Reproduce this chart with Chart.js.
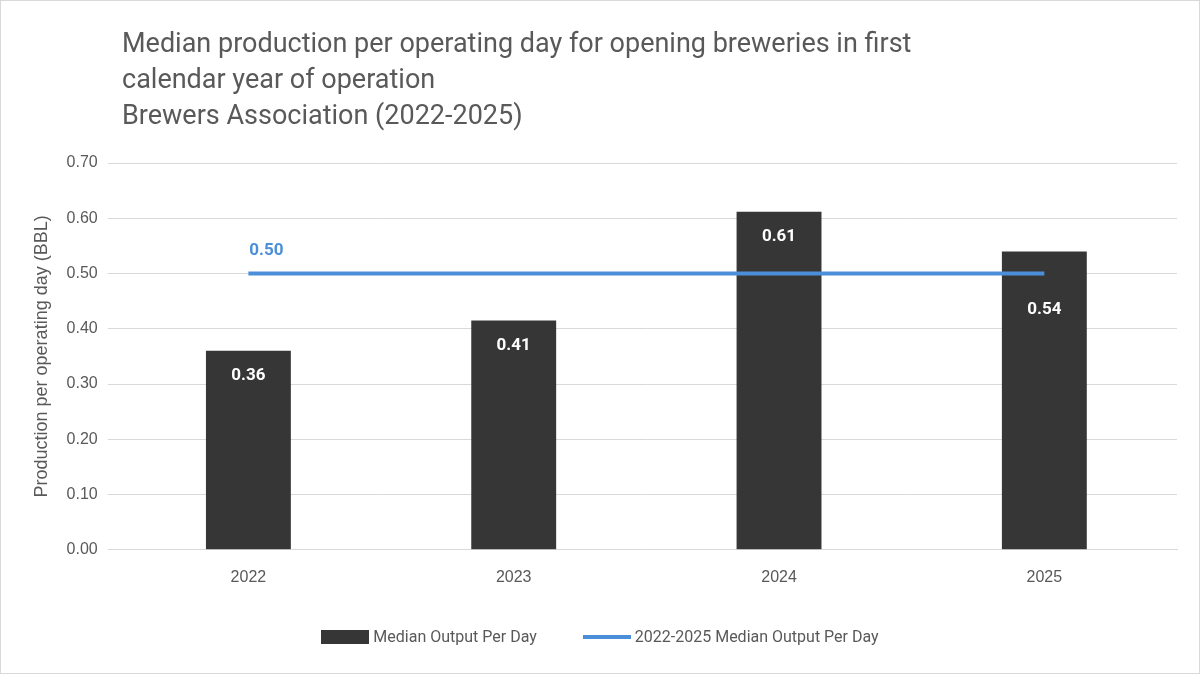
<!DOCTYPE html>
<html>
<head>
<meta charset="utf-8">
<script src="https://cdn.jsdelivr.net/npm/chart.js@4"></script>
<style>
  body { margin: 0; background: #fff; font-family: Roboto, "Open Sans", sans-serif; }
  #wrap { position: relative; width: 1198px; height: 672px; border: 1px solid #d9d9d9; }
  #title { position: absolute; left: 121px; top: 24px; color: #595959; font-size: 27px; line-height: 36px; }
  #legend { position: absolute; top: 626px; left: 0; width: 100%; display: flex; justify-content: center; gap: 46px; font-size: 16px; color: #595959; }
  .item { display: flex; align-items: center; gap: 4px; }
  .bar { width: 48px; height: 14px; background: #363636; }
  .ln { width: 48px; height: 4px; background: #4a8fd8; }
</style>
</head>
<body>
<div id="wrap">
  <canvas id="chart1" width="1198" height="672"></canvas>
  <div id="title">Median production per operating day for opening breweries in first<br>calendar year of operation<br>Brewers Association (2022-2025)</div>
  <div id="legend">
    <div class="item"><div class="bar"></div>Median Output Per Day</div>
    <div class="item"><div class="ln"></div>2022-2025 Median Output Per Day</div>
  </div>
</div>
<script>
const years = ['2022', '2023', '2024', '2025'];
const medianOutput = [0.36, 0.415, 0.612, 0.54];
const overallMedian = [0.50, 0.50, 0.50, 0.50];

const labelPlugin = {
    id: 'labels',
    afterDatasetsDraw(chart) {
        const ctx = chart.ctx;
        ctx.save();
        ctx.font = 'bold 17px Roboto, sans-serif';
        ctx.textAlign = 'center';
        ctx.textBaseline = 'middle';
        chart.getDatasetMeta(0).data.forEach((b, i) => {
            ctx.fillStyle = '#ffffff';
            let y = b.y + 25;
            if (i === 3) y = b.y + 58;
            ctx.fillText(medianOutput[i].toFixed(2), b.x, y);
        });
        const p = chart.getDatasetMeta(1).data[0];
        ctx.fillStyle = '#4a8fd8';
        ctx.fillText(overallMedian[0].toFixed(2), p.x + 18, p.y - 23);
        ctx.restore();
    }
};

const ctx1 = document.getElementById('chart1').getContext('2d');
const chart1 = new Chart(ctx1, {
    type: 'bar',
    data: {
        labels: years,
        datasets: [{
            label: 'Median Output Per Day',
            data: medianOutput,
            backgroundColor: '#363636',
            categoryPercentage: 1,
            barPercentage: 0.32,
            order: 2
        }, {
            type: 'line',
            label: '2022-2025 Median Output Per Day',
            data: overallMedian,
            borderColor: '#4a8fd8',
            borderWidth: 4,
            pointRadius: 0,
            order: 1
        }]
    },
    options: {
        responsive: false,
        animation: false,
        layout: { padding: { top: 162, right: 22, bottom: 76, left: 26 } },
        scales: {
            y: {
                min: 0, max: 0.7,
                ticks: { stepSize: 0.1, color: '#595959', font: { size: 16 }, padding: 10, callback: v => v.toFixed(2) },
                grid: { color: '#d9d9d9' },
                border: { display: false },
                title: { display: true, text: 'Production per operating day (BBL)', color: '#595959', font: { size: 18 } }
            },
            x: {
                ticks: { color: '#595959', font: { size: 16 }, padding: 10 },
                grid: { display: false },
                border: { color: '#d9d9d9' }
            }
        },
        plugins: { legend: { display: false }, tooltip: { enabled: false } }
    },
    plugins: [labelPlugin]
});
</script>
</body>
</html>
